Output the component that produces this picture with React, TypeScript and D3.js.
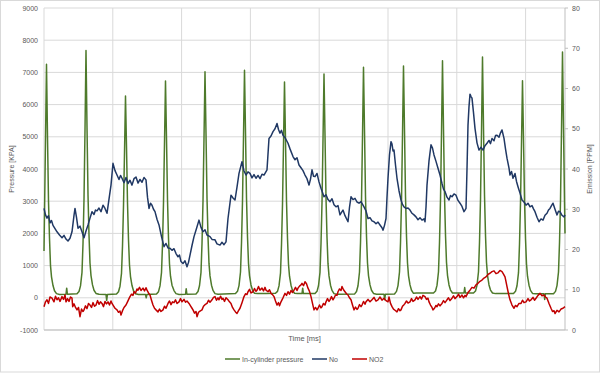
import React from "react";
import * as d3 from "d3";

// time [ms] vs value
const pressureSeries: [number, number][] = [
  [0, 1450], [1.5, 4900], [2.5, 7250], [3.5, 5000], [4.5, 3000], [5.5, 1850], [6.5, 1000], [7.5, 650], [9, 380], [10.5, 220], [12.5, 130], [15.5, 105], [22, 110], [22.7, 300], [23.4, 110],
  [33, 125], [35, 195], [36.5, 370], [38, 790], [39, 1680], [40, 3050], [41, 5200], [42, 7680], [43, 5300], [44, 3200], [45, 1950], [46, 1080], [47, 690], [48.5, 400], [50, 235], [52, 135], [55, 110], [62, 105], [62.7, -80], [63.4, 105],
  [72.5, 120], [74.5, 190], [76, 360], [77.5, 760], [78.5, 1600], [79.5, 2850], [80.5, 4500], [81.5, 6270], [82.5, 4700], [83.5, 2950], [84.5, 1800], [85.5, 1020], [86.5, 660], [88, 380], [89.5, 220], [91.5, 125], [94.5, 100], [101.5, 100], [102.2, 0], [102.9, 100],
  [112.5, 115], [114.5, 190], [116, 370], [117.5, 780], [118.5, 1650], [119.5, 2950], [120.5, 4800], [121.5, 6730], [122.5, 4950], [123.5, 3050], [124.5, 1850], [125.5, 1050], [126.5, 670], [128, 390], [130, 225], [132, 130], [135, 105], [141.5, 110], [142.2, 280], [142.9, 110],
  [152, 120], [154, 195], [155.5, 375], [157, 790], [158, 1680], [159, 3000], [160, 4950], [161, 7020], [162, 5100], [163, 3100], [164, 1900], [165, 1060], [166, 680], [167.5, 390], [169, 230], [171, 130], [174, 110],
  [191.5, 130], [193.5, 200], [195, 380], [196.5, 800], [197.5, 1700], [198.5, 3000], [199.5, 5000], [200.5, 7070], [201.5, 5150], [202.5, 3100], [203.5, 1900], [204.5, 1070], [205.5, 690], [207, 400], [208.5, 240], [210.5, 140], [213.5, 130], [222, 135],
  [231.5, 140], [233.5, 200], [235, 370], [236.5, 770], [237.5, 1650], [238.5, 2900], [239.5, 4750], [240.5, 6700], [241.5, 4900], [242.5, 3000], [243.5, 1850], [244.5, 1040], [245.5, 670], [247, 390], [248.5, 230], [250.5, 140], [253.5, 130], [258, 130], [258.7, 300], [259.4, 130],
  [271, 130], [273, 200], [274.5, 375], [276, 790], [277, 1680], [278, 2950], [279, 4900], [280, 6950], [281, 5050], [282, 3100], [283, 1880], [284, 1060], [285, 680], [286.5, 390], [288, 230], [290, 130], [293, 110],
  [310.5, 115], [312.5, 195], [314, 375], [315.5, 800], [316.5, 1700], [317.5, 3000], [318.5, 5000], [319.5, 7160], [320.5, 5200], [321.5, 3150], [322.5, 1920], [323.5, 1080], [324.5, 690], [326, 400], [327.5, 235], [329.5, 135], [332.5, 110], [340, 110], [340.7, -60], [341.4, 110],
  [350.5, 120], [352.5, 200], [354, 380], [355.5, 800], [356.5, 1700], [357.5, 3000], [358.5, 5050], [359.5, 7200], [360.5, 5200], [361.5, 3150], [362.5, 1920], [363.5, 1080], [364.5, 690], [366, 400], [367.5, 235], [369.5, 140], [372.5, 150],
  [389.5, 150], [391.5, 210], [393, 385], [394.5, 810], [395.5, 1720], [396.5, 3050], [397.5, 5100], [398.5, 7360], [399.5, 5250], [400.5, 3200], [401.5, 1950], [402.5, 1100], [403.5, 700], [405, 400], [406.5, 240], [408.5, 150], [411.5, 150], [420, 150], [420.7, 320], [421.4, 150],
  [429.5, 150], [431.5, 210], [433, 385], [434.5, 810], [435.5, 1720], [436.5, 3050], [437.5, 5150], [438.5, 7475], [439.5, 5300], [440.5, 3200], [441.5, 1950], [442.5, 1100], [443.5, 700], [445, 400], [446.5, 240], [448.5, 150], [451.5, 130],
  [469.5, 130], [471.5, 200], [473, 375], [474.5, 780], [475.5, 1660], [476.5, 2950], [477.5, 4800], [478.5, 6740], [479.5, 4950], [480.5, 3050], [481.5, 1850], [482.5, 1050], [483.5, 670], [485, 390], [486.5, 230], [488.5, 135], [491.5, 125], [500, 125], [500.7, -50], [501.4, 125],
  [509.5, 125], [511.5, 200], [513, 380], [514.5, 800], [515.5, 1700], [516.5, 3000], [517.5, 5200], [518.5, 7630], [519.5, 5300], [520.5, 3000], [521, 2000],
];

const noSeries: [number, number][] = [
  [0, 30.2], [1.5, 28.6], [3, 27.8], [4.5, 28.4], [6, 26.6], [7.5, 27.2], [9, 26.0], [11, 25.2], [13, 24.4], [15.5, 23.6], [18, 22.9], [20, 23.5], [22, 22.6], [24, 22.1], [26, 22.8], [28, 24.4], [30, 28.5], [31, 30.2], [32.5, 28.0], [34, 25.3], [36, 25.8], [38, 24.4], [40, 22.9], [42, 24.6], [44, 26.1], [46, 27.8], [48, 29.4], [50, 28.7], [51.5, 29.8], [53, 29.6], [55, 30.3], [57, 29.4], [59, 31.0], [61, 30.2], [63, 29.0], [65, 32.5], [67, 36.0], [69, 41.4], [71, 39.6], [73, 38.5], [75, 37.4], [76.5, 38.4], [78, 37.7], [80, 36.6], [82, 37.9], [84, 36.4], [86, 37.2], [88, 36.0], [90, 37.6], [92, 38.0], [94, 36.5], [96, 37.4], [98, 36.7], [100, 37.9], [102, 37.3],
  [103.5, 33.0], [105, 30.2], [106.5, 31.5], [108, 31.0], [109.5, 30.0], [111, 29.4], [113, 27.5], [115, 26.1], [117.5, 23.2], [120, 20.7], [122, 21.5], [124, 20.4], [126, 20.3], [128, 19.8], [130, 20.2], [132, 19.0], [134, 18.2], [135.5, 18.6], [137, 17.0], [139, 16.5], [141, 17.2], [143, 15.7], [144.5, 16.8], [146, 18.6], [148, 21.0], [150, 23.2], [152.5, 25.2], [155, 27.3], [157, 25.5], [159, 24.4], [161, 24.9], [163, 23.6], [166, 23.2], [168, 22.5], [171, 22.4], [173, 21.4], [176, 21.1], [178, 21.8], [180, 21.2], [182, 21.9],
  [184, 27.7], [187, 33.5], [189, 32.8], [191, 32.3], [193, 35.5], [195, 38.9], [198, 41.8], [200, 39.5], [202, 38.5], [204, 39.3], [206, 38.9], [208, 37.8], [210, 38.6], [212, 37.7], [214, 38.4], [216, 37.6], [218, 38.7], [220, 38.5], [223, 39.8], [225, 47.6], [227, 48.2], [229, 49.3], [231, 50.0], [233, 51.3], [234.5, 49.8], [236, 48.9], [237.5, 49.6], [239, 48.4], [241, 47.8], [244, 46.4], [246, 45.0], [249, 43.1], [251, 42.3], [253, 42.8], [255, 41.0], [257, 40.3], [259, 39.6], [261, 38.5], [263, 37.6], [265, 36.0], [266.5, 37.5], [268, 39.8], [269.5, 38.2], [271, 38.1], [273, 38.9], [275, 36.8], [277, 35.2],
  [280, 33.1], [282, 33.6], [284, 32.4], [286, 31.9], [288, 32.6], [290, 31.1], [292, 30.6], [294, 30.9], [296, 28.6], [297.5, 29.2], [299, 29.8], [301, 28.4], [304, 26.9], [305.5, 30.5], [307, 33.1], [309, 32.4], [311, 32.7], [313, 31.8], [315, 31.5], [317, 31.9], [320, 30.6], [322, 29.6], [324, 27.7], [326, 27.9], [328, 27.1], [330, 26.9], [332, 26.4], [334, 26.8], [336, 26.1], [338, 25.4], [339, 24.8], [340.5, 26.0], [342, 27.7], [343, 33.0], [344, 37.7], [345.5, 43.5], [347, 46.8], [348, 46.2], [349, 44.5], [350, 44.7], [351.5, 41.0], [353, 37.7], [355, 34.6], [357, 32.3], [358.5, 31.2], [360, 30.6], [362, 30.2], [364, 30.3], [366, 29.8], [368, 29.0], [370, 28.6], [372, 28.1], [374, 27.4], [376, 27.9], [378, 27.3], [380, 27.6], [381, 26.9],
  [382, 30.5], [383, 36.0], [385, 42.0], [387, 46.0], [388.5, 45.2], [390, 43.5], [392, 41.9], [394, 40.2], [396, 38.5], [398, 36.4], [399.5, 35.0], [401, 34.4], [403, 33.0], [405, 32.3], [406.5, 33.4], [408, 33.1], [410, 33.8], [412, 33.5], [414, 32.2], [416, 31.5], [418, 30.7], [420, 29.4], [421, 29.8], [422, 30.2], [423, 40.0], [424, 50.9], [425, 55.5], [426, 58.6], [427, 58.0], [428, 57.6], [429.5, 54.0], [431, 50.1], [433, 46.5], [435, 44.7], [437, 45.4], [439, 44.7], [441, 45.8], [443, 46.4], [445, 47.1], [446.5, 46.3], [448, 47.6], [450, 47.0], [451.5, 48.3], [453, 48.4], [455, 47.9], [456.5, 49.0], [458, 49.7], [460, 47.6], [461.5, 45.0], [463, 42.7], [465, 40.2], [466, 38.5], [467.5, 39.4], [469, 37.7], [471, 38.9], [472.5, 36.9], [474, 35.6], [476, 34.0], [478, 32.3],
  [480, 31.8], [482, 31.0], [484, 31.5], [486, 30.6], [488, 30.9], [489.5, 30.1], [491, 29.4], [493, 28.0], [495, 26.9], [497, 27.6], [499, 27.3], [501, 28.5], [503, 29.0], [504.5, 29.8], [506, 30.2], [507.5, 30.9], [509, 31.5], [511, 30.0], [513, 28.6], [514.5, 29.5], [516, 29.4], [518, 28.5], [520, 28.1], [521, 28.6],
];

const no2Series: [number, number][] = [
  [0, 5.8], [1.5, 7.0], [3, 7.5], [4.5, 6.6], [6, 8.2], [8, 7.9], [10, 7.0], [11.5, 8.4], [13, 7.5], [14.5, 8.0], [16, 7.1], [18, 8.3], [19.5, 7.6], [21, 8.7], [22, 7.0], [23.5, 7.8], [25, 7.1], [26.5, 8.2], [28, 7.9], [28.7, 5.8], [30, 6.5], [31.5, 5.6], [33, 5.0], [34.5, 5.6], [36, 3.3], [37.5, 5.2], [39, 4.6], [40, 5.0], [41.5, 6.0], [43, 5.3], [44.5, 6.6], [46, 6.2], [47.5, 5.6], [49, 6.8], [50.5, 5.9], [52, 6.2], [53.5, 7.3], [55, 6.4], [56.5, 7.0], [58, 6.6], [59.5, 5.8], [61, 7.1], [62.5, 6.5], [64, 7.0], [65.5, 6.2], [67, 7.2], [68, 6.6], [69.5, 6.0], [71, 5.4], [73, 5.0], [74.5, 4.4], [76, 4.7], [77, 3.7], [78.5, 4.8], [80, 5.6],
  [82, 6.2], [83.5, 7.0], [85, 7.8], [86, 8.3], [87.5, 8.9], [89, 8.6], [90, 9.5], [91.5, 9.2], [93, 10.2], [94, 9.9], [95.5, 10.6], [97, 9.8], [99, 10.4], [100.5, 9.7], [102, 10.5], [103, 9.9], [104.5, 9.2], [106, 8.7], [107.5, 7.4], [109, 6.2], [110.5, 5.4], [112, 5.0], [114, 4.5], [115.5, 5.2], [117, 4.6], [119, 5.0], [120.5, 5.9], [122, 5.4], [124, 6.6], [125.5, 7.2], [127, 6.3], [128.5, 7.0], [130, 6.8], [131.5, 7.5], [133, 6.6], [135, 7.0], [136.5, 7.8], [138, 7.0], [140, 7.6], [141.5, 6.9], [143, 7.2], [145, 6.6], [146.5, 6.0], [148, 5.4], [149, 5.0], [150.5, 4.2], [152, 4.6], [153, 3.3], [154.5, 4.4], [156, 4.7], [158, 5.0], [159.5, 5.9],
  [161, 6.3], [163, 6.6], [164.5, 7.4], [166, 6.9], [168, 7.5], [169.5, 8.1], [171, 8.3], [172.5, 7.4], [174, 8.0], [175, 7.5], [176.5, 8.4], [178, 7.6], [179, 7.9], [180.5, 7.1], [182, 8.0], [184, 7.5], [185.5, 7.0], [187, 6.6], [188.5, 5.6], [190, 5.0], [191.5, 4.5], [193, 4.1], [194.5, 4.8], [196, 5.4], [198, 6.8], [200, 8.3], [201.5, 9.0], [203, 8.8], [204, 9.5], [205.5, 10.1], [207, 9.2], [209, 9.5], [210.5, 10.3], [212, 9.6], [213, 9.9], [214.5, 10.8], [216, 9.9], [218, 10.4], [219.5, 9.7], [221, 10.6], [222, 9.9], [224, 9.5], [225.5, 10.0], [227, 9.1], [228.5, 8.8], [230, 8.3], [231.5, 7.2], [233, 6.2], [234.5, 6.8], [235.5, 6.0], [237, 7.0], [239, 8.0],
  [241, 9.1], [242.5, 8.6], [244, 9.5], [245.5, 8.9], [247, 9.8], [248.5, 9.3], [250, 9.9], [251.5, 10.6], [253, 9.8], [254, 10.4], [255.5, 10.9], [257, 11.2], [258, 11.6], [259.5, 11.0], [261, 12.0], [262.5, 11.5], [264, 10.4], [265.5, 9.6], [267, 8.3], [268.5, 6.6], [270, 5.0], [271.5, 5.6], [273, 5.0], [274, 5.4], [275.5, 6.2], [277, 5.5], [278, 5.8], [279.5, 6.6], [281, 6.2], [282, 7.0], [283.5, 7.8], [285, 7.1], [286, 7.5], [287.5, 8.3], [289, 7.5], [290, 7.9], [291.5, 8.7], [293, 8.6], [294, 9.5], [295.5, 10.2], [297, 9.8], [298, 10.8], [299.5, 10.0], [301, 9.5], [302.5, 9.0], [304, 8.7], [305.5, 8.0], [307, 7.5], [308.5, 6.2], [310, 5.0], [311.5, 5.7], [313, 5.1], [314, 5.4], [315.5, 6.3], [317, 5.8], [318, 6.2], [319.5, 7.1],
  [321, 6.4], [322, 7.0], [324, 7.6], [326, 7.0], [328, 7.5], [330, 8.1], [332, 7.2], [334, 7.5], [336, 8.2], [338, 7.4], [340, 7.9], [342, 7.3], [344, 7.0], [345, 8.2], [346.5, 6.6], [348, 5.8], [349.5, 5.2], [351, 4.9], [353, 4.5], [354.5, 5.3], [356, 4.8], [357, 5.0], [358.5, 5.9], [360, 6.3], [361, 6.6], [362.5, 7.2], [364, 6.7], [366, 7.0], [367.5, 7.8], [369, 7.1], [371, 7.5], [372.5, 8.2], [374, 7.6], [376, 8.3], [377.5, 7.7], [379, 8.6], [381, 8.3], [382.5, 7.6], [384, 7.9], [385, 7.0], [386.5, 6.2], [388, 5.6], [389, 5.0], [390.5, 5.4], [392, 6.1], [393, 5.8], [394.5, 6.5], [396, 6.0], [398, 6.6], [399.5, 7.3],
  [401, 6.8], [403, 7.5], [404.5, 8.0], [406, 7.3], [408, 7.9], [409.5, 8.5], [411, 7.8], [413, 8.3], [414.5, 8.9], [416, 8.1], [418, 8.7], [419.5, 8.0], [421, 8.6], [422, 8.3], [424, 9.3], [426, 9.9], [428, 10.6], [430, 10.4], [432, 11.2], [434, 11.6], [436, 12.1], [438, 12.4], [440, 12.9], [442, 13.2], [444, 13.8], [446, 14.1], [448, 14.5], [450, 14.7], [452, 14.0], [454, 14.2], [456, 14.8], [458, 14.5], [459.5, 13.9], [461, 13.2], [462, 12.0], [463, 10.8], [464.5, 9.0], [466, 7.5], [468, 6.2], [470, 5.4], [471.5, 6.1], [473, 5.8], [475, 6.6], [477, 6.6], [478.5, 7.4],
  [480, 6.8], [482, 7.0], [484, 7.8], [485.5, 7.2], [487, 7.5], [489, 8.1], [490.5, 7.4], [492, 7.9], [494, 8.6], [496, 9.1], [498, 8.5], [500, 8.7], [501.5, 8.2], [503, 7.9], [505, 6.6], [507, 5.4], [508.5, 4.6], [510, 4.8], [511, 4.1], [513, 4.9], [515, 4.5], [517, 5.2], [519, 5.4], [521, 5.8],
];

const pressureTicks = [-1000, 0, 1000, 2000, 3000, 4000, 5000, 6000, 7000, 8000, 9000];
const emissionTicks = [0, 10, 20, 30, 40, 50, 60, 70, 80];
const timeGrid = [0, 68.8, 137.6, 206.4, 275.2, 344, 412.8, 481.6];

const legendItems = [
  { label: "In-cylinder pressure", color: "#4e7a2b" },
  { label: "No", color: "#203864" },
  { label: "NO2", color: "#c00000" },
];

const W = 600;
const H = 373;
const plot = { left: 44, right: 565, top: 8, bottom: 330 };
const font = "'Liberation Sans', Arial, sans-serif";

export default function App() {
  const x = d3.scaleLinear().domain([0, 521]).range([plot.left, plot.right]);
  const yP = d3.scaleLinear().domain([-1000, 9000]).range([plot.bottom, plot.top]);
  const yE = d3.scaleLinear().domain([0, 80]).range([plot.bottom, plot.top]);

  const pLine = d3.line<[number, number]>().x(d => x(d[0])).y(d => yP(d[1]));
  const eLine = d3.line<[number, number]>().x(d => x(d[0])).y(d => yE(d[1]));

  const legendX = [225, 312, 352];

  return (
    <svg width={W} height={H} style={{ position: "absolute", left: 0, top: 0, background: "#fff" }}>
      <rect x={0.5} y={0.5} width={W - 1} height={H - 1.5} fill="#fff" stroke="#d9d9d9" />
      {/* horizontal grid */}
      {pressureTicks.map(t => (
        <line key={"h" + t} x1={plot.left} x2={plot.right} y1={yP(t)} y2={yP(t)} stroke="#d9d9d9" strokeWidth={1} />
      ))}
      {/* vertical grid */}
      {timeGrid.map(t => (
        <line key={"v" + t} x1={x(t)} x2={x(t)} y1={plot.top} y2={plot.bottom} stroke="#d9d9d9" strokeWidth={1} />
      ))}
      <line x1={plot.left} x2={plot.right} y1={plot.bottom} y2={plot.bottom} stroke="#bfbfbf" />
      <line x1={plot.right} x2={plot.right} y1={plot.top} y2={plot.bottom} stroke="#bfbfbf" />
      {emissionTicks.map(t => (
        <line key={"et" + t} x1={plot.right} x2={plot.right + 3} y1={yE(t)} y2={yE(t)} stroke="#bfbfbf" />
      ))}

      {/* series */}
      <path d={pLine(pressureSeries) || ""} fill="none" stroke="#4e7a2b" strokeWidth={1.5} strokeLinejoin="round" />
      <path d={eLine(noSeries) || ""} fill="none" stroke="#203864" strokeWidth={1.5} strokeLinejoin="round" />
      <path d={eLine(no2Series) || ""} fill="none" stroke="#c00000" strokeWidth={1.5} strokeLinejoin="round" />

      {/* left axis labels */}
      {pressureTicks.map(t => (
        <text key={"pl" + t} x={38} y={yP(t) + 2.5} textAnchor="end" fontSize={7} fontFamily={font} fill="#595959">{t}</text>
      ))}
      {emissionTicks.map(t => (
        <text key={"el" + t} x={572} y={yE(t) + 2.5} textAnchor="start" fontSize={7} fontFamily={font} fill="#595959">{t}</text>
      ))}

      <text transform={`translate(14,${(plot.top + plot.bottom) / 2}) rotate(-90)`} textAnchor="middle" fontSize={7} fontFamily={font} fill="#595959">Pressure [KPA]</text>
      <text transform={`translate(592,${(plot.top + plot.bottom) / 2}) rotate(-90)`} textAnchor="middle" fontSize={7} fontFamily={font} fill="#595959">Emission [PPM]</text>
      <text x={(plot.left + plot.right) / 2} y={341} textAnchor="middle" fontSize={7.5} fontFamily={font} fill="#595959">Time [ms]</text>

      {legendItems.map((it, i) => (
        <g key={it.label} transform={`translate(${legendX[i]},359)`}>
          <line x1={0} x2={15} y1={0} y2={0} stroke={it.color} strokeWidth={1.5} />
          <text x={17} y={2.5} fontSize={7} fontFamily={font} fill="#595959">{it.label}</text>
        </g>
      ))}
    </svg>
  );
}
